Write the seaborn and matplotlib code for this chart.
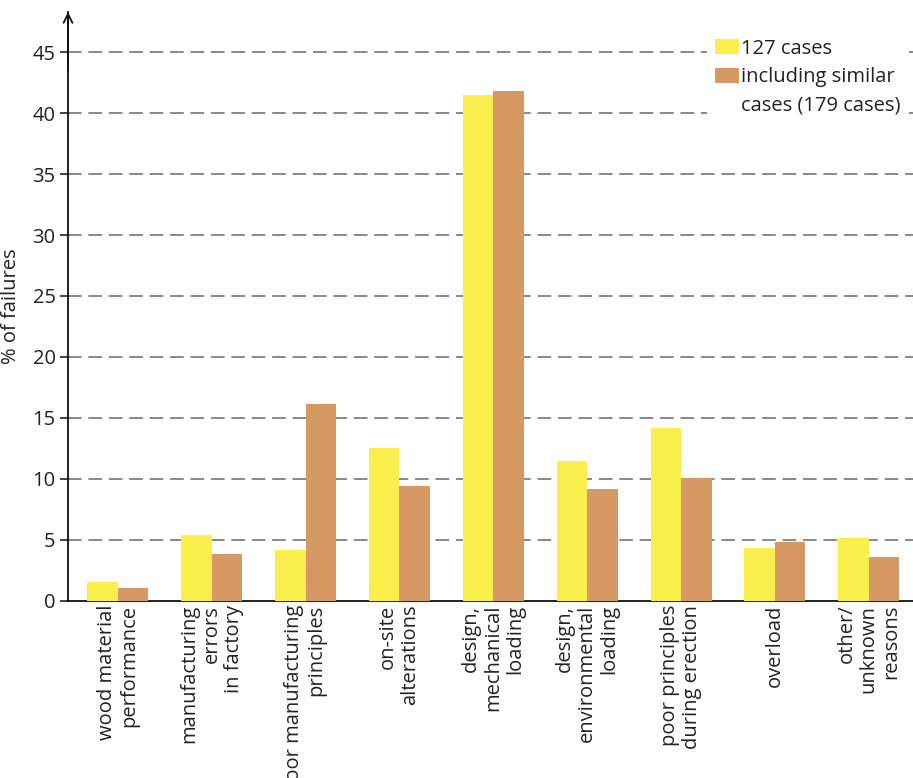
import matplotlib
matplotlib.use("Agg")
import matplotlib.pyplot as plt
from matplotlib.ticker import FixedLocator
from matplotlib.patches import Patch
import seaborn as sns
import pandas as pd

categories = [
    "wood material\nperformance",
    "manufacturing\nerrors\nin factory",
    "poor manufacturing\nprinciples",
    "on-site\nalterations",
    "design,\nmechanical\nloading",
    "design,\nenvironmental\nloading",
    "poor principles\nduring erection",
    "overload",
    "other/\nunknown\nreasons",
]
series_names = ["127 cases", "including similar cases (179 cases)"]
legend_lines = ["127 cases", "including similar", "cases (179 cases)"]
cases_127 = [1.56, 5.4, 4.15, 12.55, 41.5, 11.45, 14.15, 4.32, 5.14]
cases_179 = [1.04, 3.83, 16.1, 9.42, 41.8, 9.16, 10.06, 4.81, 3.58]
yticks = [0, 5, 10, 15, 20, 25, 30, 35, 40, 45]
colors = ["#F9EE4C", "#D69963"]

df = pd.DataFrame({
    "category": categories * 2,
    "value": cases_127 + cases_179,
    "series": [series_names[0]] * len(categories) + [series_names[1]] * len(categories),
})

sns.set_style("white")
plt.rcParams["font.family"] = ["Open Sans", "DejaVu Sans"]
txt = "#222222"
fs = 14.5

fig = plt.figure(figsize=(9.13, 7.78), dpi=100)
ax = fig.add_axes([0.0745, 0.228, 0.9255, 0.7566])

sns.barplot(data=df, x="category", y="value", hue="series", palette=colors,
            width=0.65, saturation=1, ax=ax, zorder=3, linewidth=0, legend=False)

ax.set_xlim(-0.53, len(categories) - 0.53)
ax.set_ylim(0, 48.3)
ax.set_yticks(yticks)
ax.set_yticklabels([str(t) for t in yticks], fontsize=fs, color=txt)
for t in yticks[1:]:
    ax.axhline(t, color="#888888", lw=1.4, ls=(0, (7, 3.5)), zorder=1)

ax.set_xticks(range(len(categories)))
ax.set_xticklabels(categories, rotation=90, fontsize=fs, color=txt,
                   va="top", ha="center", multialignment="right", linespacing=1.15)
ax.tick_params(axis="x", which="major", length=0, pad=3)
ax.xaxis.set_minor_locator(FixedLocator([i - 0.53 for i in range(len(categories) + 1)]))
ax.tick_params(axis="x", which="minor", length=8, width=1, color="#444444", direction="out")
ax.tick_params(axis="y", which="major", length=6, width=1.2, color="#222222", direction="out", pad=3, left=True)

for s in ["top", "right"]:
    ax.spines[s].set_visible(False)
ax.spines["left"].set_color("#111111")
ax.spines["bottom"].set_color("#111111")
ax.spines["left"].set_linewidth(1.3)
ax.spines["bottom"].set_linewidth(1.3)

ax.annotate("", xy=(0, 1.0), xycoords="axes fraction", xytext=(0, 0.9),
            arrowprops=dict(arrowstyle="->", color="#111111", lw=1.3,
                            mutation_scale=16, shrinkA=0, shrinkB=0))

ax.set_xlabel("")
ax.set_ylabel("% of failures", fontsize=fs, color=txt, labelpad=8)

handles = [Patch(facecolor=colors[0], edgecolor="none"),
           Patch(facecolor=colors[1], edgecolor="none"),
           Patch(facecolor="none", edgecolor="none")]
leg = ax.legend(handles, legend_lines, loc="upper right", bbox_to_anchor=(1.0, 0.975),
                frameon=True, facecolor="white", edgecolor="none", framealpha=1,
                fontsize=fs, handlelength=1.2, handleheight=0.8, handletextpad=0.12,
                labelspacing=0.42, borderpad=0.4, borderaxespad=0.2)
for t in leg.get_texts():
    t.set_color(txt)
leg.set_zorder(5)

fig.savefig("out.png", dpi=100)
